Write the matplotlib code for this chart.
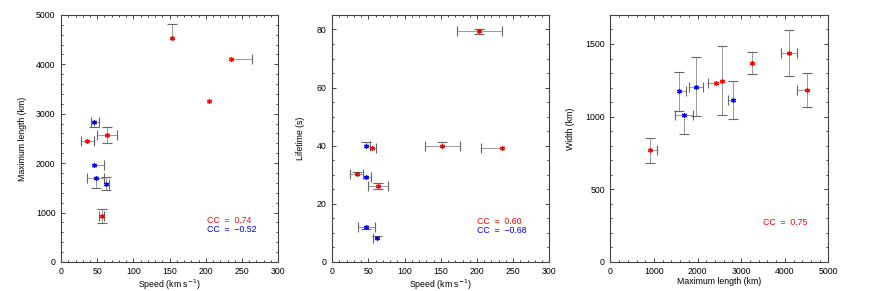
import numpy as np
import matplotlib
matplotlib.use("Agg")
import matplotlib.pyplot as plt
from matplotlib.ticker import MultipleLocator

plt.rcParams['font.family'] = ['Liberation Sans', 'DejaVu Sans']

# panel 1: speed vs maximum length
p1_red_v = [153, 235, 204, 63, 36, 56]
p1_red_L = [4528, 4115, 3264, 2568, 2447, 926]
p1_red_xlo = [0, 0, 0, 14, 9, 4]
p1_red_xhi = [0, 29, 0, 14, 9, 4]
p1_red_ylo = [0, 0, 0, 156, 0, 136]
p1_red_yhi = [285, 0, 0, 156, 0, 142]

p1_blue_v = [46, 46, 48, 62]
p1_blue_L = [2832, 1960, 1703, 1581]
p1_blue_xlo = [5, 0, 11.5, 0]
p1_blue_xhi = [6, 14, 11.5, 4.5]
p1_blue_ylo = [108, 0, 215, 135]
p1_blue_yhi = [0, 0, 0, 135]

# panel 2: speed vs lifetime
p2_red_v = [203, 152, 234, 34, 63, 55]
p2_red_T = [79.3, 40.0, 39.3, 30.2, 26.2, 39.3]
p2_red_xlo = [31, 24, 29, 9, 14, 0]
p2_red_xhi = [31, 25, 0, 9, 14, 5.5]
p2_red_ylo = [0.85, 0, 0, 0, 1.0, 0]
p2_red_yhi = [0.85, 1.1, 0, 0.9, 1.0, 0]

p2_blue_v = [46, 46, 47, 62]
p2_blue_T = [40.0, 29.3, 12.1, 8.1]
p2_blue_xlo = [0, 0, 12, 6]
p2_blue_xhi = [6, 7, 11.5, 0]
p2_blue_ylo = [0, 0, 0.9, 0]
p2_blue_yhi = [1.1, 0, 0, 0.9]

# panel 3: maximum length vs width
p3_red_L = [919, 2427, 2558, 3254, 4104, 4518]
p3_red_W = [768, 1233, 1247, 1368, 1441, 1182]
p3_red_xlo = [0, 184, 0, 0, 183, 230]
p3_red_xhi = [152, 0, 0, 0, 183, 0]
p3_red_ylo = [86, 0, 237, 77, 161, 118]
p3_red_yhi = [86, 0, 237, 77, 153, 118]

p3_blue_L = [1570, 1692, 1960, 2818]
p3_blue_W = [1175, 1013, 1207, 1116]
p3_blue_xlo = [0, 210, 153, 115]
p3_blue_xhi = [153, 210, 153, 0]
p3_blue_ylo = [134, 131, 200, 132]
p3_blue_yhi = [134, 0, 200, 132]

cc1 = ("0.74", "\u22120.52")
cc2 = ("0.60", "\u22120.68")
cc3 = "0.75"

ecol = '#666666'
fs = 6.3


def errs(ax, x, y, xlo, xhi, ylo, yhi):
    x = np.asarray(x, float); y = np.asarray(y, float)
    xlo = np.asarray(xlo, float); xhi = np.asarray(xhi, float)
    ylo = np.asarray(ylo, float); yhi = np.asarray(yhi, float)
    # stems
    m = (xlo + xhi) > 0
    ax.hlines(y[m], (x - xlo)[m], (x + xhi)[m], color='#8a8a8a', lw=0.6, zorder=2)
    m = (ylo + yhi) > 0
    ax.vlines(x[m], (y - ylo)[m], (y + yhi)[m], color='#8a8a8a', lw=0.6, zorder=2)
    # caps
    kw = dict(ls='none', color=ecol, ms=6.5, mew=0.8, zorder=2)
    ax.plot((x - xlo)[xlo > 0], y[xlo > 0], marker='|', **kw)
    ax.plot((x + xhi)[xhi > 0], y[xhi > 0], marker='|', **kw)
    ax.plot(x[ylo > 0], (y - ylo)[ylo > 0], marker='_', **kw)
    ax.plot(x[yhi > 0], (y + yhi)[yhi > 0], marker='_', **kw)


def pts(ax, x, y, c):
    ax.plot(x, y, ls='none', marker=(6, 2, 0), color=c, ms=3.6, mew=0.9, zorder=3)


def style(ax, xmaj, xmin, ymaj, ymin):
    for s in ax.spines.values():
        s.set_color('#444444')
        s.set_linewidth(0.8)
    ax.xaxis.set_major_locator(MultipleLocator(xmaj))
    ax.xaxis.set_minor_locator(MultipleLocator(xmin))
    ax.yaxis.set_major_locator(MultipleLocator(ymaj))
    ax.yaxis.set_minor_locator(MultipleLocator(ymin))
    ax.tick_params(which='both', direction='in', top=True, right=True,
                   colors='#444444', labelcolor='black', labelsize=fs, width=0.7)
    ax.tick_params(which='major', length=2.6, pad=4)
    ax.tick_params(which='minor', length=1.5)


fig = plt.figure(figsize=(8.72, 2.91), dpi=100)
bot = 0.1
h = 0.8487
xl_y = -0.062

ax1 = fig.add_axes([0.070, bot, 0.249, h])
errs(ax1, p1_red_v, p1_red_L, p1_red_xlo, p1_red_xhi, p1_red_ylo, p1_red_yhi)
errs(ax1, p1_blue_v, p1_blue_L, p1_blue_xlo, p1_blue_xhi, p1_blue_ylo, p1_blue_yhi)
pts(ax1, p1_red_v, p1_red_L, 'red')
pts(ax1, p1_blue_v, p1_blue_L, 'blue')
ax1.set_xlim(0, 300)
ax1.set_ylim(0, 5000)
style(ax1, 50, 10, 1000, 200)
ax1.set_xlabel('Speed (km s$^{-1}$)', fontsize=fs)
ax1.set_ylabel('Maximum length (km)', fontsize=fs)
ax1.xaxis.set_label_coords(0.5, xl_y)
ax1.yaxis.set_label_coords(-0.157, 0.5)
ax1.text(0.671, 0.169, 'CC  =  ' + cc1[0], color='red', fontsize=fs,
         transform=ax1.transAxes, va='center')
ax1.text(0.671, 0.131, 'CC  =  ' + cc1[1], color='blue', fontsize=fs,
         transform=ax1.transAxes, va='center')

ax2 = fig.add_axes([0.381, bot, 0.249, h])
errs(ax2, p2_red_v, p2_red_T, p2_red_xlo, p2_red_xhi, p2_red_ylo, p2_red_yhi)
errs(ax2, p2_blue_v, p2_blue_T, p2_blue_xlo, p2_blue_xhi, p2_blue_ylo, p2_blue_yhi)
pts(ax2, p2_red_v, p2_red_T, 'red')
pts(ax2, p2_blue_v, p2_blue_T, 'blue')
ax2.set_xlim(0, 300)
ax2.set_ylim(0, 85)
style(ax2, 50, 10, 20, 5)
ax2.set_xlabel('Speed (km s$^{-1}$)', fontsize=fs)
ax2.set_ylabel('Lifetime (s)', fontsize=fs)
ax2.xaxis.set_label_coords(0.5, xl_y)
ax2.yaxis.set_label_coords(-0.124, 0.5)
ax2.text(0.667, 0.165, 'CC  =  ' + cc2[0], color='red', fontsize=fs,
         transform=ax2.transAxes, va='center')
ax2.text(0.667, 0.128, 'CC  =  ' + cc2[1], color='blue', fontsize=fs,
         transform=ax2.transAxes, va='center')

ax3 = fig.add_axes([0.700, bot, 0.250, h])
errs(ax3, p3_red_L, p3_red_W, p3_red_xlo, p3_red_xhi, p3_red_ylo, p3_red_yhi)
errs(ax3, p3_blue_L, p3_blue_W, p3_blue_xlo, p3_blue_xhi, p3_blue_ylo, p3_blue_yhi)
pts(ax3, p3_red_L, p3_red_W, 'red')
pts(ax3, p3_blue_L, p3_blue_W, 'blue')
ax3.set_xlim(0, 5000)
ax3.set_ylim(0, 1700)
style(ax3, 1000, 200, 500, 100)
ax3.set_xlabel('Maximum length (km)', fontsize=fs)
ax3.set_ylabel('Width (km)', fontsize=fs)
ax3.xaxis.set_label_coords(0.5, xl_y)
ax3.yaxis.set_label_coords(-0.164, 0.54)
ax3.text(0.699, 0.158, 'CC  =  ' + cc3, color='red', fontsize=fs,
         transform=ax3.transAxes, va='center')

fig.savefig('out.png', dpi=100)
